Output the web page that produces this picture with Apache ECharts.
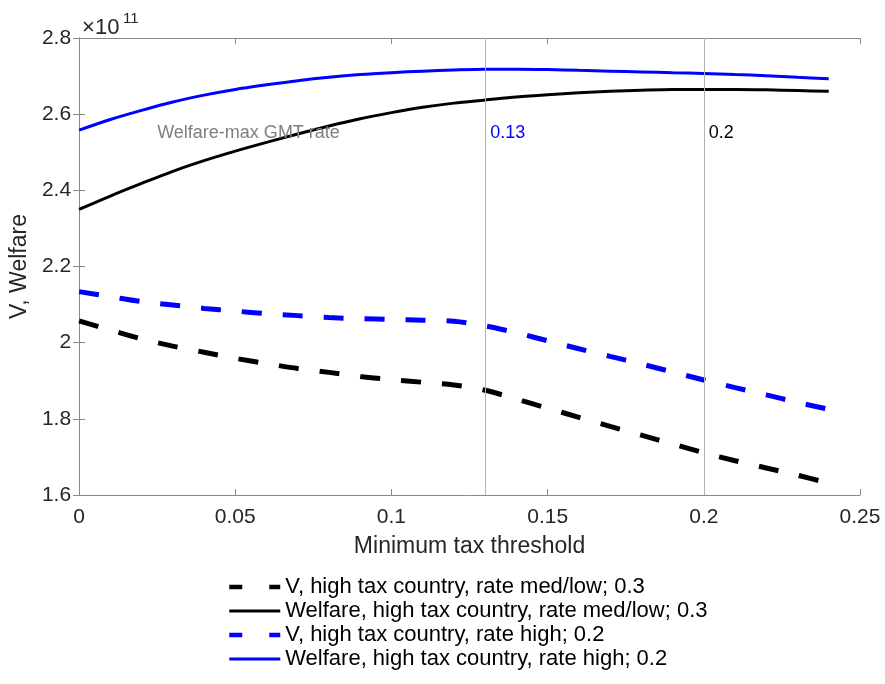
<!DOCTYPE html>
<html>
<head>
<meta charset="utf-8">
<script src="https://cdn.jsdelivr.net/npm/echarts@6/dist/echarts.min.js"></script>
<style>
  html, body { margin: 0; padding: 0; background: #fff; }
  #chart { width: 885px; height: 684px; }
</style>
</head>
<body>
<div id="chart"></div>
<script>
// Minimum tax threshold grid
const thresholds = [0, 0.01, 0.02, 0.03, 0.04, 0.05, 0.06, 0.07, 0.08, 0.09, 0.10, 0.11, 0.12,
  0.13, 0.14, 0.15, 0.16, 0.17, 0.18, 0.19, 0.20, 0.21, 0.22, 0.23, 0.24];

// Values in units of 1e11
const vMedLow = [2.057, 2.033, 2.010, 1.991, 1.975, 1.959, 1.945, 1.932, 1.922, 1.911, 1.903, 1.896, 1.889,
  1.875, 1.852, 1.828, 1.804, 1.780, 1.757, 1.734, 1.711, 1.690, 1.671, 1.652, 1.631];
const welfareMedLow = [2.350, 2.385, 2.418, 2.450, 2.478, 2.503, 2.526, 2.548, 2.569, 2.588, 2.604, 2.618, 2.629,
  2.637, 2.645, 2.651, 2.656, 2.660, 2.663, 2.665, 2.665, 2.665, 2.664, 2.662, 2.660];
const vHigh = [2.134, 2.121, 2.108, 2.099, 2.090, 2.083, 2.076, 2.071, 2.066, 2.063, 2.061, 2.059, 2.056,
  2.044, 2.026, 2.005, 1.984, 1.964, 1.944, 1.923, 1.902, 1.882, 1.863, 1.843, 1.825];
const welfareHigh = [2.558, 2.586, 2.610, 2.632, 2.650, 2.665, 2.677, 2.688, 2.697, 2.704, 2.709, 2.713, 2.716,
  2.718, 2.718, 2.717, 2.715, 2.713, 2.711, 2.709, 2.707, 2.704, 2.701, 2.697, 2.693];

const seriesNames = [
  'V, high tax country, rate med/low; 0.3',
  'Welfare, high tax country, rate med/low; 0.3',
  'V, high tax country, rate high; 0.2',
  'Welfare, high tax country, rate high; 0.2'
];

// Welfare-maximising rates marked by vertical lines
const optimalRates = [0.13, 0.2];
const optimalLabels = ['0.13', '0.2'];
const optimalColors = ['#0000ff', '#000000'];
const annotationY = 2.55;
const headingX = 0.025;
const headingText = 'Welfare-max GMT rate';

const FONT = 'Liberation Sans, Arial, Helvetica, sans-serif';
const AXIS_GRAY = '#8a8a8a';
const TEXT_DARK = '#262626';

const pair = (ys) => thresholds.map((x, i) => [x, ys[i]]);

const chart = echarts.init(document.getElementById('chart'));

const axisCommon = {
  type: 'value',
  axisLine: { show: true, lineStyle: { color: AXIS_GRAY, width: 1 } },
  axisTick: { show: true, inside: true, length: 6, lineStyle: { color: AXIS_GRAY } },
  splitLine: { show: false }
};

const option = {
  backgroundColor: '#ffffff',
  animation: false,
  textStyle: { fontFamily: FONT },
  grid: { left: 79, right: 25, top: 38, bottom: 189, containLabel: false },
  xAxis: [
    Object.assign({}, axisCommon, {
      position: 'bottom', min: 0, max: 0.25, interval: 0.05,
      name: 'Minimum tax threshold', nameLocation: 'middle', nameGap: 40,
      nameTextStyle: { fontSize: 23, color: TEXT_DARK, fontFamily: FONT },
      axisLabel: { fontSize: 21, color: TEXT_DARK, margin: 12, fontFamily: FONT,
        formatter: (v) => String(Math.round(v * 100) / 100) }
    }),
    Object.assign({}, axisCommon, {
      position: 'top', min: 0, max: 0.25, interval: 0.05,
      axisLabel: { show: false }
    })
  ],
  yAxis: [
    Object.assign({}, axisCommon, {
      position: 'left', min: 1.6, max: 2.8, interval: 0.2,
      name: 'V, Welfare', nameLocation: 'middle', nameGap: 40, nameRotate: 90,
      nameTextStyle: { fontSize: 23, color: TEXT_DARK, fontFamily: FONT },
      axisLabel: { fontSize: 21, color: TEXT_DARK, margin: 8, fontFamily: FONT,
        formatter: (v) => String(Math.round(v * 10) / 10) }
    }),
    Object.assign({}, axisCommon, {
      position: 'right', min: 1.6, max: 2.8, interval: 0.2,
      axisLabel: { show: false }
    })
  ],
  legend: {
    orient: 'vertical',
    left: 227,
    top: 576,
    padding: 0,
    itemWidth: 51,
    itemHeight: 14,
    itemGap: 2,
    itemStyle: { opacity: 0 },
    textStyle: { fontSize: 22, lineHeight: 22, color: '#000', fontFamily: FONT },
    data: [
      { name: seriesNames[0], lineStyle: { color: '#000', width: 4.5, type: [13, 27] } },
      { name: seriesNames[1], lineStyle: { color: '#000', width: 3 } },
      { name: seriesNames[2], lineStyle: { color: '#0000ff', width: 4.5, type: [13, 27] } },
      { name: seriesNames[3], lineStyle: { color: '#0000ff', width: 3 } }
    ]
  },
  series: [
    {
      name: seriesNames[0], type: 'line', data: pair(vMedLow), symbol: 'none', smooth: 0.3,
      lineStyle: { color: '#000000', width: 5, type: [20, 21] }, itemStyle: { color: '#000000' }, z: 3
    },
    {
      name: seriesNames[1], type: 'line', data: pair(welfareMedLow), symbol: 'none', smooth: 0.3,
      lineStyle: { color: '#000000', width: 3 }, itemStyle: { color: '#000000' }, z: 3,
      markLine: {
        silent: true, symbol: 'none', label: { show: false },
        lineStyle: { color: '#b4b4b4', width: 1, type: 'solid' },
        data: optimalRates.map((r) => ({ xAxis: r }))
      }
    },
    {
      name: seriesNames[2], type: 'line', data: pair(vHigh), symbol: 'none', smooth: 0.3,
      lineStyle: { color: '#0000ff', width: 5, type: [20, 21] }, itemStyle: { color: '#0000ff' }, z: 3
    },
    {
      name: seriesNames[3], type: 'line', data: pair(welfareHigh), symbol: 'none', smooth: 0.3,
      lineStyle: { color: '#0000ff', width: 3 }, itemStyle: { color: '#0000ff' }, z: 3
    }
  ]
};

chart.setOption(option);

// Text annotations placed from data coordinates
function placeAnnotations() {
  const elements = [];
  const head = chart.convertToPixel({ xAxisIndex: 0, yAxisIndex: 0 }, [headingX, annotationY]);
  elements.push({
    type: 'text', x: head[0], y: head[1], z: 10,
    style: { text: headingText, fill: '#7f7f7f', font: '18px ' + FONT, verticalAlign: 'middle', align: 'left' }
  });
  optimalRates.forEach((r, i) => {
    const p = chart.convertToPixel({ xAxisIndex: 0, yAxisIndex: 0 }, [r, annotationY]);
    elements.push({
      type: 'text', x: p[0] + 5, y: p[1], z: 10,
      style: { text: optimalLabels[i], fill: optimalColors[i], font: '18px ' + FONT, verticalAlign: 'middle', align: 'left' }
    });
  });
  // Exponent of the y axis
  const top = chart.convertToPixel({ xAxisIndex: 0, yAxisIndex: 0 }, [0, 2.8]);
  elements.push({
    type: 'text', x: top[0] + 3, y: top[1] - 21, z: 10,
    style: { text: '×10', fill: TEXT_DARK, font: '22px ' + FONT, verticalAlign: 'top', align: 'left' }
  });
  elements.push({
    type: 'text', x: top[0] + 44, y: top[1] - 27, z: 10,
    style: { text: '11', fill: TEXT_DARK, font: '15px ' + FONT, verticalAlign: 'top', align: 'left' }
  });
  chart.setOption({ graphic: elements });
}
placeAnnotations();
</script>
</body>
</html>
